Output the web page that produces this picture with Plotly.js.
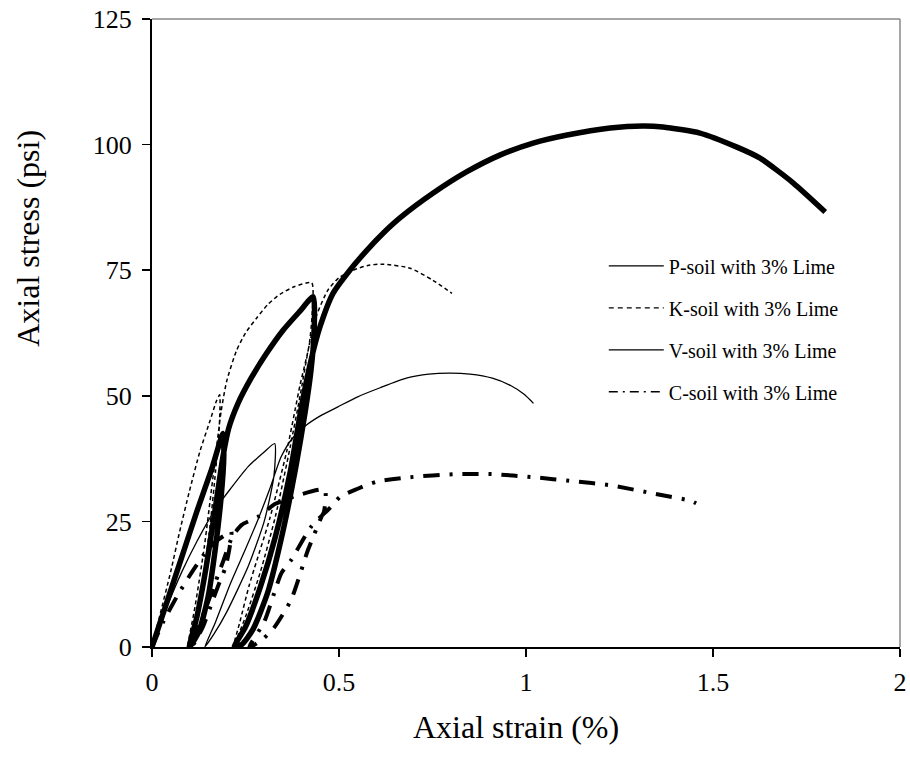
<!DOCTYPE html>
<html>
<head>
<meta charset="utf-8">
<script src="https://cdn.plot.ly/plotly-3.0.1.min.js"></script>
<style>html,body{margin:0;padding:0;background:#fff;}#chart{width:910px;height:758px;}</style>
</head>
<body>
<div id="chart"></div>
<script>
// ---- Data ----
var seriesNames = ["P-soil with 3% Lime", "K-soil with 3% Lime", "V-soil with 3% Lime", "C-soil with 3% Lime"];

// P-soil (thick solid)
var pStrain = [0, 0.04, 0.08, 0.12, 0.16, 0.19,
  0.192, 0.185, 0.17, 0.15, 0.125, 0.1,
  0.12, 0.145, 0.17, 0.19, 0.205, 0.23, 0.265, 0.305, 0.35, 0.395, 0.431,
  0.433, 0.425, 0.41, 0.385, 0.35, 0.31, 0.27, 0.24, 0.22,
  0.25, 0.29, 0.33, 0.37, 0.40, 0.425, 0.449, 0.484, 0.529, 0.575, 0.62, 0.663, 0.751, 0.842, 0.93, 1.019, 1.11, 1.225, 1.313, 1.366, 1.465, 1.564, 1.626, 1.714, 1.80];
var pStress = [0, 9, 18, 27, 35.5, 42.5,
  38, 30, 20, 10, 3, 0,
  6, 16, 28, 38, 43.5, 48.5, 53.5, 58.3, 63, 66.8, 69.7,
  62, 55, 47, 36, 23, 11, 3.5, 0.5, 0,
  4, 12, 22, 35, 48, 57, 63.7, 70.4, 75, 79, 82.5, 85.4, 90.3, 94.6, 97.9, 100.3, 101.9, 103.3, 103.7, 103.5, 102.3, 99.5, 97.3, 92.4, 86.6];

// K-soil (thin dashed)
var kStrain = [0, 0.02, 0.05, 0.074, 0.1, 0.128, 0.155, 0.172, 0.181,
  0.18, 0.17, 0.155, 0.135, 0.115, 0.095,
  0.115, 0.14, 0.165, 0.185, 0.2, 0.226, 0.25, 0.28, 0.31, 0.342, 0.38, 0.427,
  0.428, 0.42, 0.396, 0.36, 0.315, 0.26, 0.235, 0.217,
  0.25, 0.29, 0.33, 0.37, 0.396, 0.42, 0.44, 0.47, 0.5, 0.538, 0.58, 0.618, 0.69, 0.751, 0.802];
var kStress = [0, 6, 15, 23, 31, 38.9, 45, 48.9, 50.2,
  44, 35, 24, 13, 5, 0,
  8, 20, 35, 47, 53, 59, 62.5, 65.5, 68.2, 70.2, 71.7, 72.5,
  66, 60, 52.2, 38.9, 25.6, 12.3, 5, 0,
  6, 15, 26, 40, 50, 60, 66, 71, 73.5, 75, 76, 76.2, 75.4, 73, 70.4];

// V-soil (thin solid)
var vStrain = [0, 0.04, 0.08, 0.12, 0.168, 0.21, 0.257, 0.3, 0.328,
  0.326, 0.3, 0.257, 0.2, 0.165, 0.141,
  0.17, 0.21, 0.25, 0.283, 0.315, 0.345, 0.375, 0.408, 0.45, 0.497, 0.55, 0.61, 0.68, 0.74, 0.797, 0.85, 0.91, 0.96, 0.995, 1.02];
var vStress = [0, 8, 15, 21, 27.3, 31.5, 35.9, 38.8, 40.5,
  34, 25, 16, 7, 2.5, 0,
  5, 12.7, 19.5, 25.3, 31.5, 37.8, 41.5, 43.9, 46, 47.8, 49.8, 51.6, 53.5, 54.3, 54.5, 54.3, 53.5, 52, 50.3, 48.5];

// C-soil (thick dash-dot)
var cStrain = [0, 0.03, 0.07, 0.105, 0.14, 0.17, 0.2, 0.212,
  0.208, 0.197, 0.176, 0.163, 0.136, 0.115, 0.105,
  0.13, 0.16, 0.19, 0.215, 0.24, 0.283, 0.33, 0.39, 0.462,
  0.46, 0.453, 0.417, 0.372, 0.328, 0.3, 0.275, 0.26,
  0.3, 0.346, 0.372, 0.426, 0.476, 0.503, 0.55, 0.6, 0.69, 0.81, 0.912, 1.019, 1.126, 1.225, 1.33, 1.44, 1.455];
var cStress = [0, 5, 10.5, 14.7, 18.5, 21, 22.5, 23,
  20, 16, 12, 9.4, 4, 1, 0,
  5, 11, 17, 22, 24.3, 25.9, 28.5, 30.2, 31.3,
  27, 25.9, 19.3, 9.4, 4, 1.8, 0.5, 0,
  5, 14.7, 17.3, 24, 27.7, 29.9, 31.5, 32.9, 33.8, 34.4, 34.4, 33.8, 33, 32.2, 30.7, 29.1, 28.6];

var xTicks = [0, 0.5, 1, 1.5, 2];
var xTickText = ["0", "0.5", "1", "1.5", "2"];
var yTicks = [0, 25, 50, 75, 100, 125];
var xTitle = "Axial strain (%)";
var yTitle = "Axial stress (psi)";

// ---- Traces ----
var FONT = "Liberation Serif, Times New Roman, serif";
var SM = 0.6;
var traces = [
  {x: pStrain, y: pStress, mode: "lines", line: {color: "#000", width: 5.5, shape: "spline", smoothing: SM}, showlegend: false, hoverinfo: "skip"},
  {x: kStrain, y: kStress, mode: "lines", line: {color: "#000", width: 1.5, dash: "4px,3px", shape: "spline", smoothing: SM}, showlegend: false, hoverinfo: "skip"},
  {x: vStrain, y: vStress, mode: "lines", line: {color: "#000", width: 1.3, shape: "spline", smoothing: SM}, showlegend: false, hoverinfo: "skip"},
  {x: cStrain, y: cStress, mode: "lines", line: {color: "#000", width: 4, dash: "16px,10px,3px,10px", shape: "spline", smoothing: SM}, showlegend: false, hoverinfo: "skip"},
  // legend entries (thin styles as in the reference legend)
  {x: [null], y: [null], mode: "lines", name: seriesNames[0], legendgroup: "a", line: {color: "#000", width: 1.3}},
  {x: [null], y: [null], mode: "lines", name: seriesNames[1], legendgroup: "b", line: {color: "#000", width: 1.3, dash: "5px,4px"}},
  {x: [null], y: [null], mode: "lines", name: seriesNames[2], legendgroup: "c", line: {color: "#000", width: 1.3}},
  {x: [null], y: [null], mode: "lines", name: seriesNames[3], legendgroup: "d", line: {color: "#000", width: 1.5, dash: "9px,5px,2px,5px"}}
];

var layout = {
  width: 910, height: 758,
  margin: {l: 152, r: 10, t: 19, b: 111},
  paper_bgcolor: "#fff", plot_bgcolor: "#fff",
  font: {family: FONT, color: "#000"},
  showlegend: true,
  legend: {
    x: 0.604, y: 0.638, xanchor: "left", yanchor: "top",
    bgcolor: "rgba(0,0,0,0)", borderwidth: 0,
    font: {family: FONT, size: 20, color: "#000"},
    itemwidth: 55,
    tracegroupgap: 13
  },
  xaxis: {
    range: [0, 2], tickvals: xTicks, ticktext: xTickText,
    showgrid: false, zeroline: false,
    showline: true, linecolor: "#000", linewidth: 2,
    ticks: "outside", ticklen: 8, tickwidth: 1.5, tickcolor: "#000",
    tickfont: {family: FONT, size: 26, color: "#000"},
    ticklabelstandoff: 3,
    automargin: false, fixedrange: true
  },
  yaxis: {
    range: [0, 125], tickvals: yTicks,
    showgrid: false, zeroline: false,
    showline: true, linecolor: "#000", linewidth: 2,
    ticks: "outside", ticklen: 8, tickwidth: 1.5, tickcolor: "#000",
    tickfont: {family: FONT, size: 26, color: "#000"},
    ticklabelstandoff: 5,
    automargin: false, fixedrange: true
  },
  annotations: [
    {text: yTitle, xref: "paper", yref: "paper", x: -0.165, y: 0.651,
     xanchor: "center", yanchor: "middle", textangle: -90, showarrow: false,
     font: {family: FONT, size: 32, color: "#000"}},
    {text: xTitle, xref: "paper", yref: "paper", x: 0.4866, y: -0.127,
     xanchor: "center", yanchor: "middle", showarrow: false,
     font: {family: FONT, size: 32, color: "#000"}}
  ],
  shapes: [
    {type: "line", xref: "paper", yref: "paper", x0: 0, x1: 1, y0: 1, y1: 1, line: {color: "#888", width: 1.5}},
    {type: "line", xref: "paper", yref: "paper", x0: 1, x1: 1, y0: 0, y1: 1, line: {color: "#888", width: 1.5}}
  ]
};

Plotly.newPlot("chart", traces, layout, {displayModeBar: false, staticPlot: true});
</script>
</body>
</html>
